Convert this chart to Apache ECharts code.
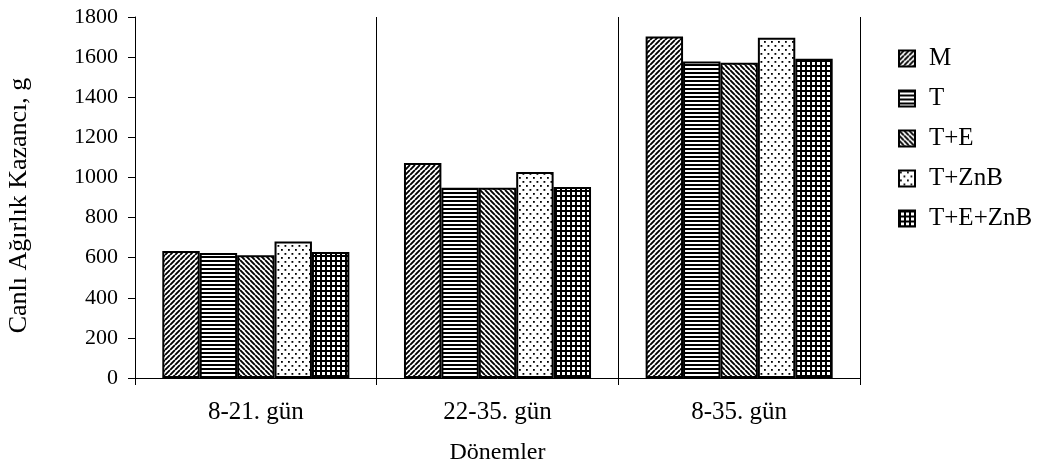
<!DOCTYPE html>
<html>
<head>
<meta charset="utf-8">
<script src="https://cdn.jsdelivr.net/npm/echarts@6/dist/echarts.min.js"></script>
<style>
  html, body { margin: 0; padding: 0; background: #fff; }
  #chart { width: 1043px; height: 476px; }
</style>
</head>
<body>
<div id="chart"></div>
<script>
// Periods and the five feeding groups (live weight gain, g)
const categories = ['8-21. gün', '22-35. gün', '8-35. gün'];
const seriesNames = ['M', 'T', 'T+E', 'T+ZnB', 'T+E+ZnB'];
const valuesM = [633, 1072, 1703];
const valuesT = [623, 948, 1578];
const valuesTE = [612, 948, 1572];
const valuesTZnB = [680, 1027, 1697];
const valuesTEZnB = [628, 952, 1592];
const yTicks = [0, 200, 400, 600, 800, 1000, 1200, 1400, 1600, 1800];

const FONT = "'Liberation Serif', 'Times New Roman', serif";

// Small canvas tiles used as monochrome fill patterns
function tile(w, h, draw) {
  const c = document.createElement('canvas');
  c.width = w; c.height = h;
  const ctx = c.getContext('2d');
  ctx.fillStyle = '#fff';
  ctx.fillRect(0, 0, w, h);
  ctx.fillStyle = '#000';
  ctx.strokeStyle = '#000';
  draw(ctx, w, h);
  return { image: c, repeat: 'repeat' };
}
function diagonal(forward) {
  return tile(5, 5, (ctx, s) => {
    ctx.lineWidth = 1.9;
    ctx.beginPath();
    for (let k = -s; k <= s; k += s) {
      if (forward) { ctx.moveTo(k, s); ctx.lineTo(k + s, 0); }
      else { ctx.moveTo(k, 0); ctx.lineTo(k + s, s); }
    }
    ctx.stroke();
  });
}
const patterns = [
  diagonal(true),
  tile(4, 4, (ctx, w) => { ctx.fillRect(0, 0, w, 2); }),
  diagonal(false),
  tile(7, 8, (ctx) => { ctx.fillRect(1, 1, 1.8, 1.8); ctx.fillRect(4.5, 5, 1.8, 1.8); }),
  tile(5, 5, (ctx, w, h) => { ctx.fillRect(0, 0, w, h); ctx.fillStyle = '#fff'; ctx.fillRect(2, 2, 3, 3); })
];
const allValues = [valuesM, valuesT, valuesTE, valuesTZnB, valuesTEZnB];

const chart = echarts.init(document.getElementById('chart'), null, { renderer: 'canvas' });
chart.setOption({
  animation: false,
  backgroundColor: '#fff',
  grid: { left: 135, right: 183, top: 17, bottom: 98, containLabel: false, outerBoundsMode: 'none' },
  legend: {
    orient: 'vertical',
    left: 893,
    top: 41,
    padding: 5,
    itemWidth: 16,
    itemHeight: 16,
    itemGap: 15,
    icon: 'rect',
    textStyle: { fontFamily: FONT, fontSize: 25, color: '#000', padding: [0, 0, 0, 9] },
    data: seriesNames
  },
  xAxis: {
    type: 'category',
    data: categories,
    name: 'Dönemler',
    nameLocation: 'middle',
    nameGap: 63,
    nameTextStyle: { fontFamily: FONT, fontSize: 24, color: '#000' },
    axisLine: { lineStyle: { color: '#000', width: 1 } },
    axisTick: { show: true, length: 7, lineStyle: { color: '#000' } },
    axisLabel: { fontFamily: FONT, fontSize: 25, color: '#000', margin: 22 },
    splitLine: { show: true, lineStyle: { color: '#000', width: 1 } }
  },
  yAxis: {
    type: 'value',
    min: yTicks[0],
    max: yTicks[yTicks.length - 1],
    interval: yTicks[1] - yTicks[0],
    name: 'Canlı Ağırlık Kazancı, g',
    nameLocation: 'middle',
    nameGap: 103,
    nameRotate: 90,
    nameTextStyle: { fontFamily: FONT, fontSize: 26, color: '#000', padding: [0, 16, 0, 0] },
    axisLine: { show: true, lineStyle: { color: '#000', width: 1 } },
    axisTick: { show: true, length: 7, lineStyle: { color: '#000' } },
    axisLabel: { fontFamily: FONT, fontSize: 22, color: '#000', margin: 17, formatter: (v) => String(v) },
    splitLine: { show: false }
  },
  series: seriesNames.map((name, i) => ({
    name: name,
    type: 'bar',
    data: allValues[i],
    barGap: '0%',
    barCategoryGap: '22.6%',
    itemStyle: { color: patterns[i], borderColor: '#000', borderWidth: 2 }
  }))
});
</script>
</body>
</html>
